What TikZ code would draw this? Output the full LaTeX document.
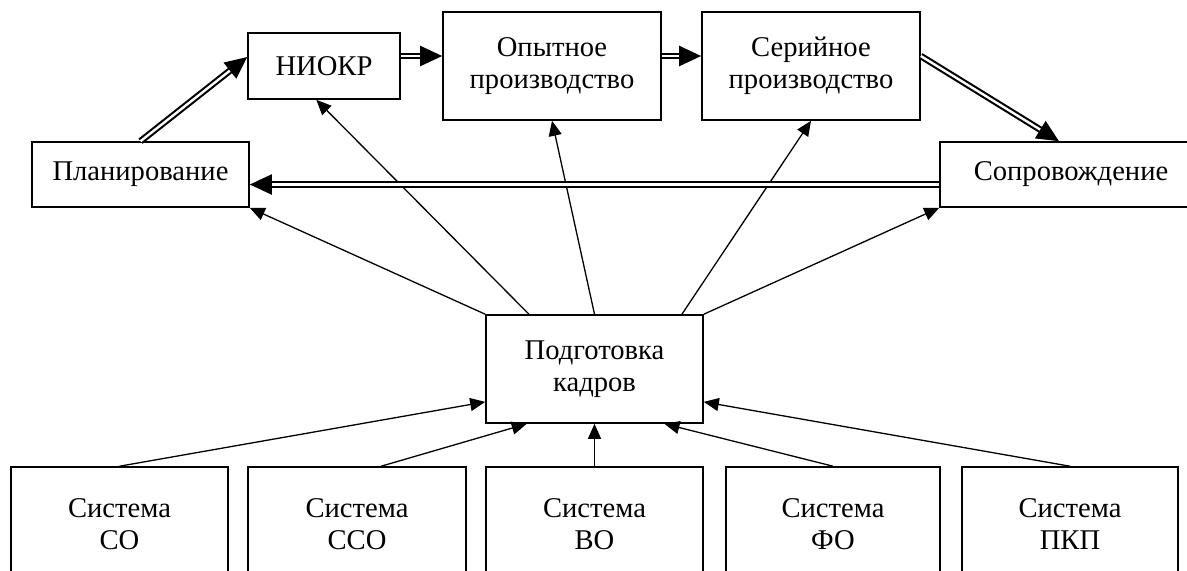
\documentclass[tikz,border=0pt]{standalone}
\usepackage{fontspec}
\setmainfont{Liberation Serif}
\usetikzlibrary{positioning, arrows.meta, calc}

\begin{document}
\begin{tikzpicture}[
  x=0.5pt, y=-0.5pt,
  box/.style={draw, line width=0.8pt, align=center, inner sep=0pt,
              font=\fontsize{14.3}{16}\selectfont},
  dbl/.style={double, double distance=1.2pt, line width=1.05pt,
              -{Triangle[length=11pt, width=10pt]}},
  arr/.style={line width=0.65pt, -{Triangle[length=7.5pt, width=6.5pt]}},
]
  \useasboundingbox (0,0) rectangle (1187,570);

  % top row
  \node[box, minimum width=108.5pt, minimum height=32.5pt] (plan) at (140.5,174.5) {Планирование};
  \node[box, minimum width=76pt, minimum height=33pt] (niokr) at (324,66) {НИОКР};
  \node[box, minimum width=109pt, minimum height=54pt] (opyt) at (552,66) {Опытное\\производство};
  \node[box, minimum width=109pt, minimum height=54pt] (seri) at (811,66) {Серийное\\производство};
  \node[box, minimum width=131pt, minimum height=32.5pt] (sopr) at (1071,174.5) {Сопровождение};

  % centre
  \node[box, minimum width=108.5pt, minimum height=54pt] (podg) at (594.5,369) {Подготовка\\кадров};

  % bottom row
  \node[box, minimum width=108.5pt, minimum height=57pt] (sco)  at (119.5,524) {Система\\СО};
  \node[box, minimum width=109pt, minimum height=57pt] (ssco) at (357,524) {Система\\ССО};
  \node[box, minimum width=108.5pt, minimum height=57pt] (svo)  at (594.5,524) {Система\\ВО};
  \node[box, minimum width=107pt, minimum height=57pt] (sfo)  at (833,524) {Система\\ФО};
  \node[box, minimum width=108pt, minimum height=57pt] (spkp) at (1070,524) {Система\\ПКП};

  % from the bottom systems
  \draw[arr] (sco.north) -- ($(podg.north west)!0.8!(podg.south west)$);
  \draw[arr] ($(ssco.north west)!0.61!(ssco.north east)$) -- ($(podg.south west)!0.19!(podg.south east)$);
  \draw[arr] (svo.north) -- (podg.south);
  \draw[arr] (sfo.north) -- ($(podg.south west)!0.82!(podg.south east)$);
  \draw[arr] (spkp.north) -- ($(podg.north east)!0.8!(podg.south east)$);

  % from training upwards
  \draw[arr] (podg.north west) -- (plan.south east);
  \draw[arr] ($(podg.north west)!0.2!(podg.north east)$) -- ($(niokr.south west)!0.45!(niokr.south east)$);
  \draw[arr] ($(podg.north west)!0.5!(podg.north east)$) -- (opyt.south);
  \draw[arr] ($(podg.north west)!0.9!(podg.north east)$) -- (seri.south);
  \draw[arr] (podg.north east) -- (sopr.south west);

  % main cycle
  \draw[dbl] (plan.north) -- ([yshift=4.5pt]niokr.west);
  \draw[dbl] ([yshift=5pt]niokr.east) -- ([yshift=5pt]opyt.west);
  \draw[dbl] ([yshift=5pt]opyt.east) -- ([yshift=5pt]seri.west);
  \draw[dbl] ([yshift=5pt]seri.east) -- ([xshift=-6pt]sopr.north);
  \draw[dbl] ([yshift=-5pt]sopr.west) -- ([yshift=-5pt]plan.east);
\end{tikzpicture}
\end{document}
